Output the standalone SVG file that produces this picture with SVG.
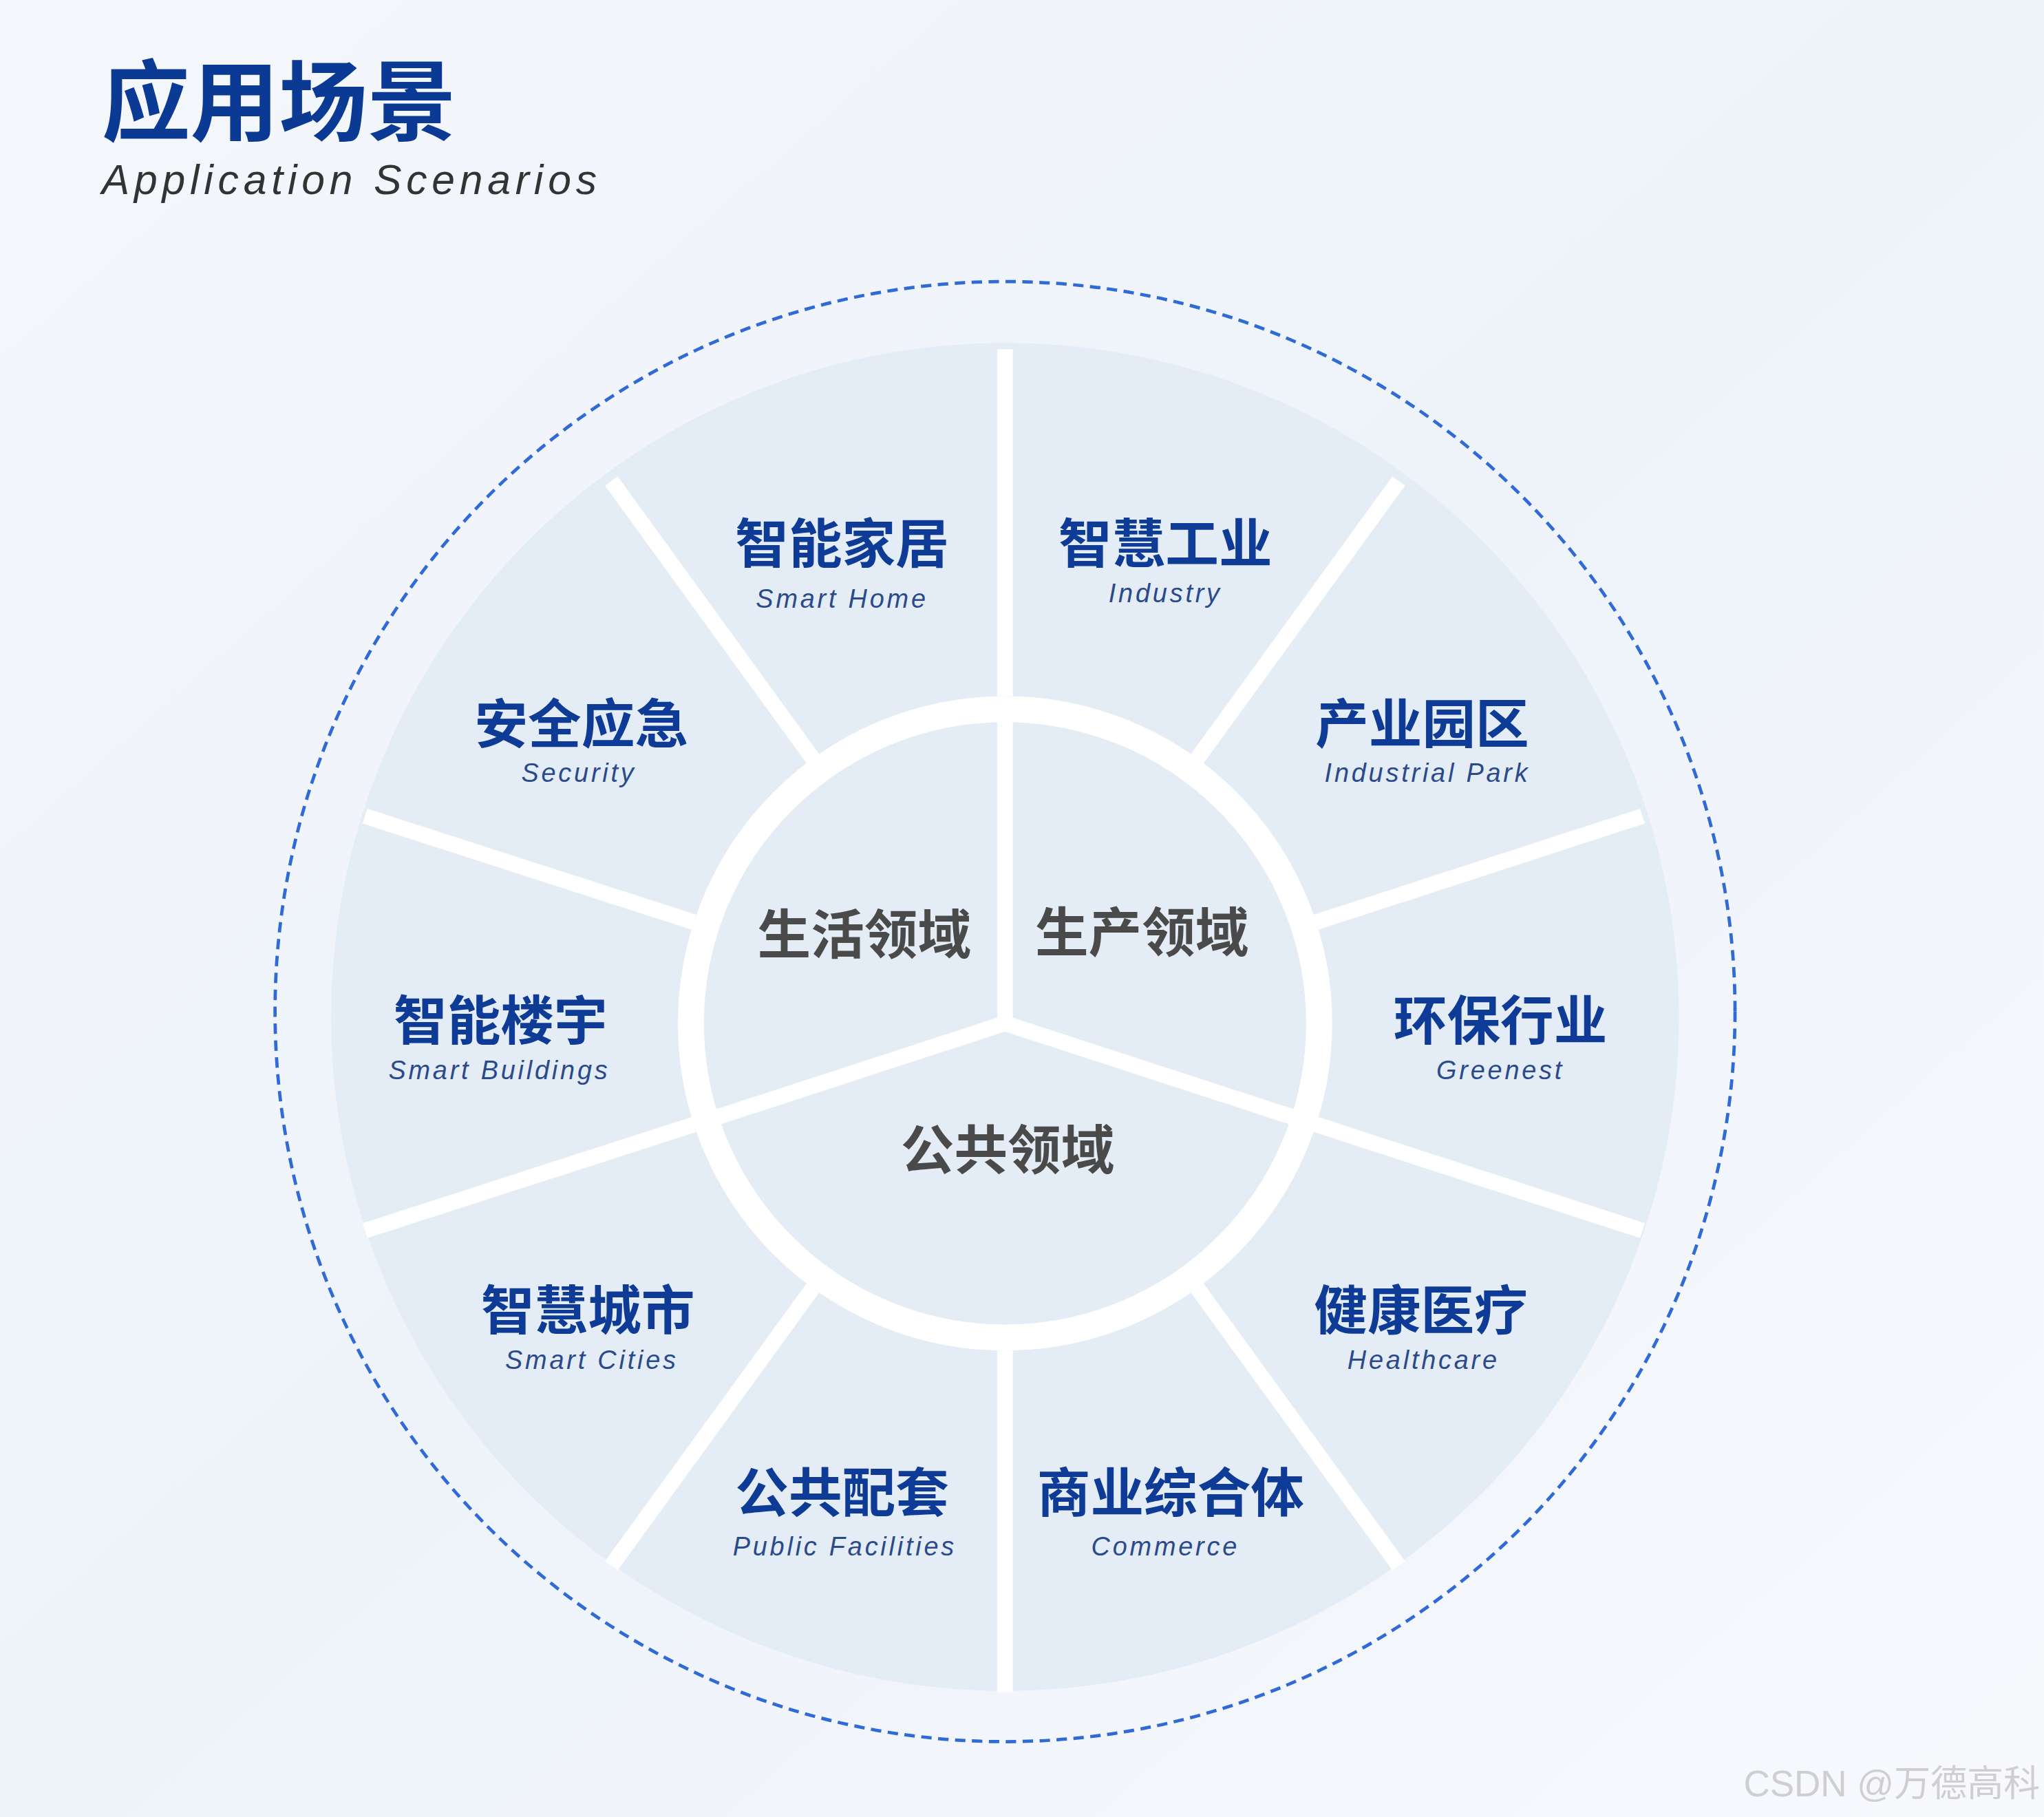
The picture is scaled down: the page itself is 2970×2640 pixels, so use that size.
<svg xmlns="http://www.w3.org/2000/svg" width="2970" height="2640" viewBox="0 0 2970 2640">
<defs>
<linearGradient id="bg" x1="0" y1="0" x2="1" y2="1">
<stop offset="0" stop-color="#f4f7fc"/><stop offset="0.5" stop-color="#eef3fa"/><stop offset="1" stop-color="#f7f9fd"/>
</linearGradient>
<style>
.zh{font-family:"Noto Sans CJK SC",sans-serif;font-weight:700;font-size:41px;fill:#0d3b96;text-anchor:middle}
.en{font-family:"Liberation Sans",sans-serif;font-style:italic;font-size:20px;letter-spacing:2px;fill:#2a4a8a;text-anchor:middle}
.in{font-family:"Noto Sans CJK SC",sans-serif;font-weight:700;font-size:41px;fill:#4a4a4a;text-anchor:middle}
.sp{stroke:#fff;stroke-width:12;fill:none}
</style>
</defs>
<rect width="2970" height="2640" fill="url(#bg)"/>
<g transform="scale(1.8941)">
<g id="title">
<text x="78" y="103" font-family="Noto Sans CJK SC,sans-serif" font-weight="700" font-size="68" fill="#0a3a94">应用场景</text>
<text x="78" y="149" font-family="Liberation Sans,sans-serif" font-style="italic" font-size="32" letter-spacing="3.6" fill="#333">Application Scenarios</text>
</g>
<circle cx="771" cy="776" r="560" fill="none" stroke="#2f6ad6" stroke-width="2.5" stroke-dasharray="8 5"/>
<circle cx="771" cy="780" r="517" fill="#e4ecf6"/>
<circle cx="771" cy="785" r="241" fill="none" stroke="#fff" stroke-width="20"/>
<g id="connectors">
<line class="sp" x1="771" y1="534" x2="771" y2="268"/>
<line class="sp" x1="918.5" y1="581.9" x2="1073" y2="369"/>
<line class="sp" x1="1009.7" y1="707.4" x2="1260" y2="626"/>
<line class="sp" x1="1009.7" y1="862.6" x2="1260" y2="944"/>
<line class="sp" x1="918.5" y1="988.1" x2="1073" y2="1201"/>
<line class="sp" x1="771" y1="1036" x2="771" y2="1298"/>
<line class="sp" x1="623.5" y1="988.1" x2="469" y2="1201"/>
<line class="sp" x1="532.3" y1="862.6" x2="280" y2="944"/>
<line class="sp" x1="532.3" y1="707.4" x2="280" y2="626"/>
<line class="sp" x1="623.5" y1="581.9" x2="469" y2="369"/>
<line class="sp" x1="771" y1="785" x2="771" y2="550"/>
<line class="sp" x1="771" y1="785" x2="995" y2="858"/>
<line class="sp" x1="771" y1="785" x2="547" y2="858"/>
</g>
<g id="n1"><text class="zh" x="646" y="432">智能家居</text><text class="en" x="646" y="466">Smart Home</text></g>
<g id="n2"><text class="zh" x="894" y="432">智慧工业</text><text class="en" x="894" y="462">Industry</text></g>
<g id="n3"><text class="zh" x="1091" y="570">产业园区</text><text class="en" x="1095" y="600">Industrial Park</text></g>
<g id="n4"><text class="zh" x="1151" y="798">环保行业</text><text class="en" x="1151" y="828">Greenest</text></g>
<g id="n5"><text class="zh" x="1090" y="1020">健康医疗</text><text class="en" x="1092" y="1050">Healthcare</text></g>
<g id="n6"><text class="zh" x="898" y="1160">商业综合体</text><text class="en" x="894" y="1193">Commerce</text></g>
<g id="n7"><text class="zh" x="646" y="1160">公共配套</text><text class="en" x="648" y="1193">Public Facilities</text></g>
<g id="n8"><text class="zh" x="451" y="1020">智慧城市</text><text class="en" x="454" y="1050">Smart Cities</text></g>
<g id="n9"><text class="zh" x="384" y="798">智能楼宇</text><text class="en" x="383" y="828">Smart Buildings</text></g>
<g id="n10"><text class="zh" x="446" y="570">安全应急</text><text class="en" x="444" y="600">Security</text></g>
<g id="c1"><text class="in" x="663" y="732">生活领域</text></g>
<g id="c2"><text class="in" x="876" y="730">生产领域</text></g>
<g id="c3"><text class="in" x="773" y="897">公共领域</text></g>
<text x="1565" y="1378" text-anchor="end" font-family="Liberation Sans,Noto Sans CJK SC,sans-serif" font-size="28" fill="#cfcfcf">CSDN @万德高科</text>
</g>
</svg>
